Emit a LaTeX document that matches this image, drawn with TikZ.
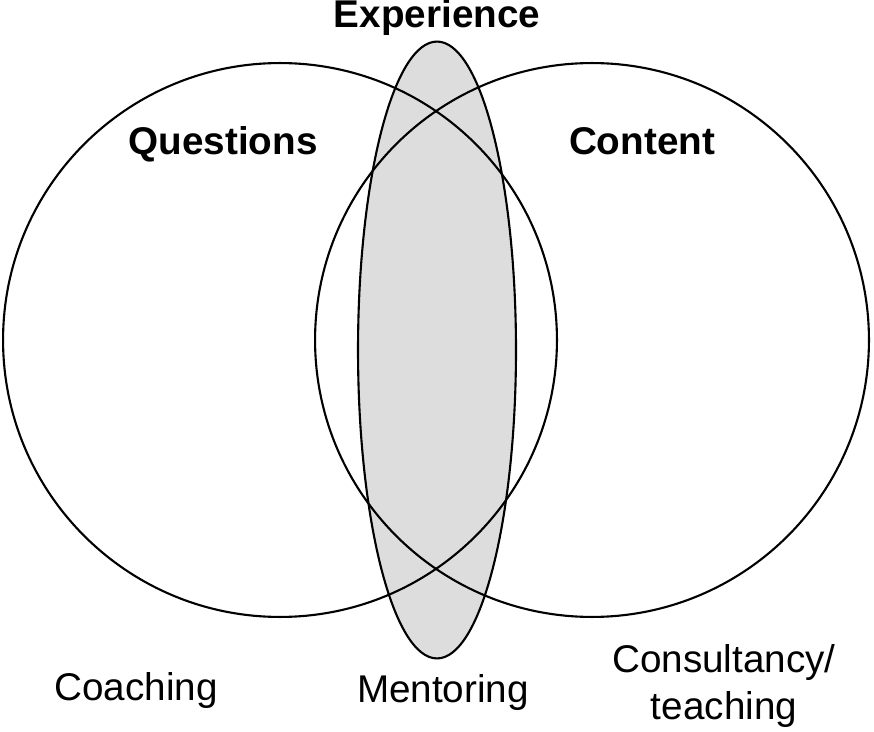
\documentclass[tikz,border=0pt]{standalone}
\usepackage{fontspec}
\setmainfont{Liberation Sans}
\usetikzlibrary{shapes.geometric}
\definecolor{vdInk}{HTML}{000000}
\definecolor{vdShade}{HTML}{DDDDDD}
\tikzset{
  vd circle/.style={circle, draw=vdInk, line width=1.2pt, minimum size=11.08cm, inner sep=0pt},
  vd overlap/.style={ellipse, draw=vdInk, fill=vdShade, line width=1.2pt, minimum width=3.16cm, minimum height=12.34cm, inner sep=0pt},
  vd title/.style={font=\fontsize{22}{27}\selectfont\bfseries, text=vdInk, inner sep=0pt},
  vd label/.style={font=\fontsize{22}{26.7}\selectfont, text=vdInk, inner sep=0pt},
}

\begin{document}
\begin{tikzpicture}[x=.02cm,y=-.02cm]
  \useasboundingbox (0,0) rectangle (874,732);
  \node[vd overlap] (experience) at (437,350) {};
  \node[vd circle] (questions) at (280,340) {};
  \node[vd circle] (content) at (592,340) {};
  \node[vd title,anchor=base] (experiencetxt) at (437,28) {Experience};
  \node[vd title,anchor=base] (questionstxt) at (223,155) {Questions};
  \node[vd title,anchor=base] (contenttxt) at (642,155) {Content};
  \node[vd label,anchor=base] (coaching) at (136,700) {Coaching};
  \node[vd label,anchor=base] (mentoring) at (443,702) {Mentoring};
  \node[vd label,anchor=base,align=center] (consultancy) at (724,719) {Consultancy/\\teaching};
\end{tikzpicture}
\end{document}
